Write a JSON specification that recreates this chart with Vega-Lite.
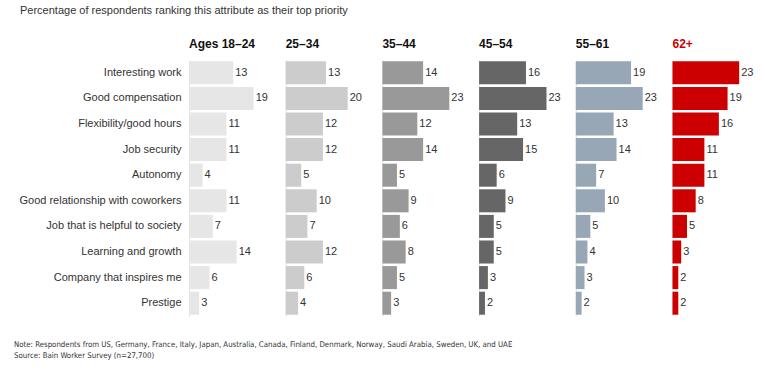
{
  "$schema": "https://vega.github.io/schema/vega-lite/v6.json",
  "padding": {"left": 13, "top": 5, "right": 5, "bottom": 5},
  "background": "white",
  "title": {"text": "Percentage of respondents ranking this attribute as their top priority", "anchor": "start", "fontSize": 11, "fontWeight": "normal", "font": "Liberation Sans", "color": "#333333", "offset": 22, "dx": 6},
  "config": {
    "view": {"stroke": null},
    "concat": {"spacing": 16.7},
    "title": {"font": "Liberation Sans"},
    "text": {"font": "Liberation Sans"}
  },
  "data": {"values": [
    {"attr": "Interesting work", "age": "18–24", "v": 13},
    {"attr": "Interesting work", "age": "25–34", "v": 13},
    {"attr": "Interesting work", "age": "35–44", "v": 14},
    {"attr": "Interesting work", "age": "45–54", "v": 16},
    {"attr": "Interesting work", "age": "55–61", "v": 19},
    {"attr": "Interesting work", "age": "62+", "v": 23},
    {"attr": "Good compensation", "age": "18–24", "v": 19},
    {"attr": "Good compensation", "age": "25–34", "v": 20},
    {"attr": "Good compensation", "age": "35–44", "v": 23},
    {"attr": "Good compensation", "age": "45–54", "v": 23},
    {"attr": "Good compensation", "age": "55–61", "v": 23},
    {"attr": "Good compensation", "age": "62+", "v": 19},
    {"attr": "Flexibility/good hours", "age": "18–24", "v": 11},
    {"attr": "Flexibility/good hours", "age": "25–34", "v": 12},
    {"attr": "Flexibility/good hours", "age": "35–44", "v": 12},
    {"attr": "Flexibility/good hours", "age": "45–54", "v": 13},
    {"attr": "Flexibility/good hours", "age": "55–61", "v": 13},
    {"attr": "Flexibility/good hours", "age": "62+", "v": 16},
    {"attr": "Job security", "age": "18–24", "v": 11},
    {"attr": "Job security", "age": "25–34", "v": 12},
    {"attr": "Job security", "age": "35–44", "v": 14},
    {"attr": "Job security", "age": "45–54", "v": 15},
    {"attr": "Job security", "age": "55–61", "v": 14},
    {"attr": "Job security", "age": "62+", "v": 11},
    {"attr": "Autonomy", "age": "18–24", "v": 4},
    {"attr": "Autonomy", "age": "25–34", "v": 5},
    {"attr": "Autonomy", "age": "35–44", "v": 5},
    {"attr": "Autonomy", "age": "45–54", "v": 6},
    {"attr": "Autonomy", "age": "55–61", "v": 7},
    {"attr": "Autonomy", "age": "62+", "v": 11},
    {"attr": "Good relationship with coworkers", "age": "18–24", "v": 11},
    {"attr": "Good relationship with coworkers", "age": "25–34", "v": 10},
    {"attr": "Good relationship with coworkers", "age": "35–44", "v": 9},
    {"attr": "Good relationship with coworkers", "age": "45–54", "v": 9},
    {"attr": "Good relationship with coworkers", "age": "55–61", "v": 10},
    {"attr": "Good relationship with coworkers", "age": "62+", "v": 8},
    {"attr": "Job that is helpful to society", "age": "18–24", "v": 7},
    {"attr": "Job that is helpful to society", "age": "25–34", "v": 7},
    {"attr": "Job that is helpful to society", "age": "35–44", "v": 6},
    {"attr": "Job that is helpful to society", "age": "45–54", "v": 5},
    {"attr": "Job that is helpful to society", "age": "55–61", "v": 5},
    {"attr": "Job that is helpful to society", "age": "62+", "v": 5},
    {"attr": "Learning and growth", "age": "18–24", "v": 14},
    {"attr": "Learning and growth", "age": "25–34", "v": 12},
    {"attr": "Learning and growth", "age": "35–44", "v": 8},
    {"attr": "Learning and growth", "age": "45–54", "v": 5},
    {"attr": "Learning and growth", "age": "55–61", "v": 4},
    {"attr": "Learning and growth", "age": "62+", "v": 3},
    {"attr": "Company that inspires me", "age": "18–24", "v": 6},
    {"attr": "Company that inspires me", "age": "25–34", "v": 6},
    {"attr": "Company that inspires me", "age": "35–44", "v": 5},
    {"attr": "Company that inspires me", "age": "45–54", "v": 3},
    {"attr": "Company that inspires me", "age": "55–61", "v": 3},
    {"attr": "Company that inspires me", "age": "62+", "v": 2},
    {"attr": "Prestige", "age": "18–24", "v": 3},
    {"attr": "Prestige", "age": "25–34", "v": 4},
    {"attr": "Prestige", "age": "35–44", "v": 3},
    {"attr": "Prestige", "age": "45–54", "v": 2},
    {"attr": "Prestige", "age": "55–61", "v": 2},
    {"attr": "Prestige", "age": "62+", "v": 2}
  ]},
  "vconcat": [
    {
      "bounds": "flush",
      "spacing": 16.7,
      "title": {"text": ["Note: Respondents from US, Germany, France, Italy, Japan, Australia, Canada, Finland, Denmark, Norway, Saudi Arabia, Sweden, UK, and UAE", "Source: Bain Worker Survey (n=27,700)"], "orient": "bottom", "anchor": "start", "fontSize": 7.8, "fontWeight": "normal", "font": "DejaVu Sans Condensed", "color": "#333333", "lineHeight": 11, "offset": 25, "dx": -5},
      "hconcat": [
        {
          "width": 80, "height": 256,
          "title": {"text": "Ages 18–24", "anchor": "start", "frame": "group", "fontSize": 12, "fontWeight": "bold", "color": "#111111", "offset": 9},
          "transform": [{"filter": "datum.age === '18–24'"}],
          "encoding": {
            "y": {"field": "attr", "type": "nominal", "sort": ["Interesting work", "Good compensation", "Flexibility/good hours", "Job security", "Autonomy", "Good relationship with coworkers", "Job that is helpful to society", "Learning and growth", "Company that inspires me", "Prestige"], "scale": {"paddingInner": 0.1, "paddingOuter": 0.05}, "axis": {"title": null, "ticks": false, "domain": true, "domainColor": "#e0e0e0", "labelPadding": 8, "labelFontSize": 11, "labelFont": "Liberation Sans", "labelColor": "#333333", "labelLimit": 300}},
            "x": {"field": "v", "type": "quantitative", "scale": {"domain": [0, 23.5], "nice": false}, "axis": null}
          },
          "layer": [
            {"mark": {"type": "bar", "color": "#e6e6e6"}},
            {"mark": {"type": "text", "align": "left", "baseline": "middle", "dx": 2, "fontSize": 11, "color": "#333333"}, "encoding": {"text": {"field": "v", "type": "quantitative"}}}
          ]
        },
        {
          "width": 80, "height": 256,
          "title": {"text": "25–34", "anchor": "start", "frame": "group", "fontSize": 12, "fontWeight": "bold", "color": "#111111", "offset": 9},
          "transform": [{"filter": "datum.age === '25–34'"}],
          "encoding": {
            "y": {"field": "attr", "type": "nominal", "sort": ["Interesting work", "Good compensation", "Flexibility/good hours", "Job security", "Autonomy", "Good relationship with coworkers", "Job that is helpful to society", "Learning and growth", "Company that inspires me", "Prestige"], "scale": {"paddingInner": 0.1, "paddingOuter": 0.05}, "axis": {"title": null, "ticks": false, "labels": false, "domain": true, "domainColor": "#e0e0e0"}},
            "x": {"field": "v", "type": "quantitative", "scale": {"domain": [0, 25.8], "nice": false}, "axis": null}
          },
          "layer": [
            {"mark": {"type": "bar", "color": "#cccccc"}},
            {"mark": {"type": "text", "align": "left", "baseline": "middle", "dx": 2, "fontSize": 11, "color": "#333333"}, "encoding": {"text": {"field": "v", "type": "quantitative"}}}
          ]
        },
        {
          "width": 80, "height": 256,
          "title": {"text": "35–44", "anchor": "start", "frame": "group", "fontSize": 12, "fontWeight": "bold", "color": "#111111", "offset": 9},
          "transform": [{"filter": "datum.age === '35–44'"}],
          "encoding": {
            "y": {"field": "attr", "type": "nominal", "sort": ["Interesting work", "Good compensation", "Flexibility/good hours", "Job security", "Autonomy", "Good relationship with coworkers", "Job that is helpful to society", "Learning and growth", "Company that inspires me", "Prestige"], "scale": {"paddingInner": 0.1, "paddingOuter": 0.05}, "axis": {"title": null, "ticks": false, "labels": false, "domain": true, "domainColor": "#e0e0e0"}},
            "x": {"field": "v", "type": "quantitative", "scale": {"domain": [0, 27.5], "nice": false}, "axis": null}
          },
          "layer": [
            {"mark": {"type": "bar", "color": "#999999"}},
            {"mark": {"type": "text", "align": "left", "baseline": "middle", "dx": 2, "fontSize": 11, "color": "#333333"}, "encoding": {"text": {"field": "v", "type": "quantitative"}}}
          ]
        },
        {
          "width": 80, "height": 256,
          "title": {"text": "45–54", "anchor": "start", "frame": "group", "fontSize": 12, "fontWeight": "bold", "color": "#111111", "offset": 9},
          "transform": [{"filter": "datum.age === '45–54'"}],
          "encoding": {
            "y": {"field": "attr", "type": "nominal", "sort": ["Interesting work", "Good compensation", "Flexibility/good hours", "Job security", "Autonomy", "Good relationship with coworkers", "Job that is helpful to society", "Learning and growth", "Company that inspires me", "Prestige"], "scale": {"paddingInner": 0.1, "paddingOuter": 0.05}, "axis": {"title": null, "ticks": false, "labels": false, "domain": true, "domainColor": "#e0e0e0"}},
            "x": {"field": "v", "type": "quantitative", "scale": {"domain": [0, 27.3], "nice": false}, "axis": null}
          },
          "layer": [
            {"mark": {"type": "bar", "color": "#666666"}},
            {"mark": {"type": "text", "align": "left", "baseline": "middle", "dx": 2, "fontSize": 11, "color": "#333333"}, "encoding": {"text": {"field": "v", "type": "quantitative"}}}
          ]
        },
        {
          "width": 80, "height": 256,
          "title": {"text": "55–61", "anchor": "start", "frame": "group", "fontSize": 12, "fontWeight": "bold", "color": "#111111", "offset": 9},
          "transform": [{"filter": "datum.age === '55–61'"}],
          "encoding": {
            "y": {"field": "attr", "type": "nominal", "sort": ["Interesting work", "Good compensation", "Flexibility/good hours", "Job security", "Autonomy", "Good relationship with coworkers", "Job that is helpful to society", "Learning and growth", "Company that inspires me", "Prestige"], "scale": {"paddingInner": 0.1, "paddingOuter": 0.05}, "axis": {"title": null, "ticks": false, "labels": false, "domain": true, "domainColor": "#e0e0e0"}},
            "x": {"field": "v", "type": "quantitative", "scale": {"domain": [0, 27.5], "nice": false}, "axis": null}
          },
          "layer": [
            {"mark": {"type": "bar", "color": "#97a7b5"}},
            {"mark": {"type": "text", "align": "left", "baseline": "middle", "dx": 2, "fontSize": 11, "color": "#333333"}, "encoding": {"text": {"field": "v", "type": "quantitative"}}}
          ]
        },
        {
          "width": 80, "height": 256,
          "title": {"text": "62+", "anchor": "start", "frame": "group", "fontSize": 12, "fontWeight": "bold", "color": "#cc0000", "offset": 9},
          "transform": [{"filter": "datum.age === '62+'"}],
          "encoding": {
            "y": {"field": "attr", "type": "nominal", "sort": ["Interesting work", "Good compensation", "Flexibility/good hours", "Job security", "Autonomy", "Good relationship with coworkers", "Job that is helpful to society", "Learning and growth", "Company that inspires me", "Prestige"], "scale": {"paddingInner": 0.1, "paddingOuter": 0.05}, "axis": {"title": null, "ticks": false, "labels": false, "domain": true, "domainColor": "#e0e0e0"}},
            "x": {"field": "v", "type": "quantitative", "scale": {"domain": [0, 27.6], "nice": false}, "axis": null}
          },
          "layer": [
            {"mark": {"type": "bar", "color": "#cc0000"}},
            {"mark": {"type": "text", "align": "left", "baseline": "middle", "dx": 2, "fontSize": 11, "color": "#333333"}, "encoding": {"text": {"field": "v", "type": "quantitative"}}}
          ]
        }
      ]
    }
  ]
}
